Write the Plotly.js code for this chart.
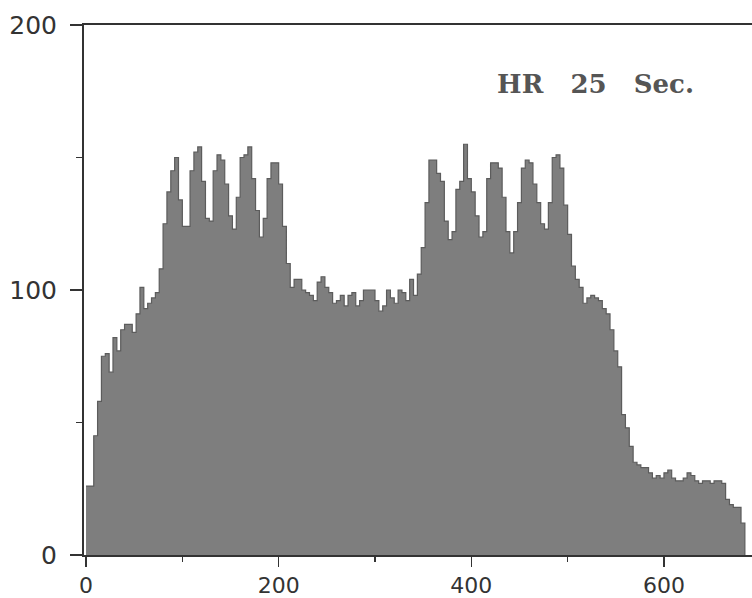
<!DOCTYPE html>
<html>
<head>
<meta charset="utf-8">
<script src="https://cdn.plot.ly/plotly-3.0.1.min.js"></script>
<style>
  html, body { margin: 0; padding: 0; background: #fff; }
  #chart { width: 752px; height: 598px; }
</style>
</head>
<body>
<div id="chart"></div>
<script>
// Histogram of heart-rate samples: bin width 4, starting at 0
const binStart = 0;
const binWidth = 4;
const counts = [
  26, 26, 45, 58, 75, 76, 69, 82, 77, 85,
  87, 87, 84, 91, 101, 93, 95, 97, 99, 108,
  125, 137, 145, 150, 134, 124, 124, 145, 152, 154,
  141, 127, 126, 145, 151, 149, 140, 128, 123, 135,
  150, 151, 154, 142, 130, 120, 127, 142, 148, 148,
  140, 124, 110, 101, 104, 104, 100, 99, 98, 96,
  103, 105, 101, 99, 95, 96, 98, 94, 98, 99,
  94, 96, 100, 100, 100, 96, 92, 94, 100, 97,
  95, 100, 99, 96, 104, 98, 106, 116, 133, 149,
  149, 144, 141, 126, 119, 122, 138, 141, 155, 142,
  137, 128, 120, 122, 142, 148, 148, 146, 135, 122,
  114, 122, 133, 146, 149, 148, 140, 133, 125, 123,
  133, 150, 151, 146, 132, 121, 109, 104, 101, 95,
  97, 98, 97, 96, 93, 91, 85, 77, 71, 53,
  48, 41, 35, 34, 33, 33, 31, 29, 30, 29,
  31, 32, 29, 28, 28, 29, 31, 30, 28, 27,
  28, 28, 27, 28, 28, 27, 21, 19, 18, 18,
  12, 0
];
const binEdges = counts.map((_, i) => binStart + i * binWidth);

const xTickVals = [0, 200, 400, 600];
const xTickText = ['0', '200', '400', '600'];
const yTickVals = [0, 100, 200];
const yTickText = ['0', '100', '200'];
const chartTitle = 'HR&nbsp;&nbsp; 25&nbsp;&nbsp; Sec.';

const axisColor = '#333333';

const trace = {
  type: 'scatter',
  mode: 'lines',
  x: binEdges,
  y: counts,
  line: { shape: 'hv', color: '#5c5c5c', width: 1.2 },
  fill: 'tozeroy',
  fillcolor: '#7e7e7e',
  hoverinfo: 'skip'
};

const layout = {
  width: 752,
  height: 598,
  margin: { l: 84, r: 0, t: 25, b: 43, pad: 0 },
  paper_bgcolor: '#ffffff',
  plot_bgcolor: '#ffffff',
  showlegend: false,
  title: {
    text: chartTitle,
    x: 0.661, xref: 'container', xanchor: 'left',
    y: 0.86, yref: 'container', yanchor: 'middle',
    font: { family: 'DejaVu Serif', size: 26, color: '#555555', weight: 'bold' }
  },
  xaxis: {
    range: [-2.1, 691.4],
    showgrid: false, zeroline: false,
    showline: true, linecolor: axisColor, linewidth: 2, mirror: true,
    ticks: 'outside', ticklen: 10, tickwidth: 1.5, tickcolor: axisColor,
    tickvals: xTickVals, ticktext: xTickText,
    minor: { dtick: 100, tick0: 0, ticks: 'outside', ticklen: 5, tickwidth: 1.2, tickcolor: axisColor, showgrid: false },
    tickfont: { family: 'DejaVu Sans', size: 22, color: '#333333' },
    ticklabelstandoff: 0,
    fixedrange: true
  },
  yaxis: {
    range: [0, 200],
    showgrid: false, zeroline: false,
    showline: true, linecolor: axisColor, linewidth: 2,
    ticks: 'outside', ticklen: 12, tickwidth: 1.5, tickcolor: axisColor,
    tickvals: yTickVals, ticktext: yTickText,
    minor: { dtick: 50, tick0: 0, ticks: 'outside', ticklen: 6, tickwidth: 1.2, tickcolor: axisColor, showgrid: false },
    tickfont: { family: 'DejaVu Sans', size: 25, color: '#333333' },
    ticklabelstandoff: 8,
    fixedrange: true
  }
};

Plotly.newPlot('chart', [trace], layout, { staticPlot: true, displayModeBar: false });
</script>
</body>
</html>
